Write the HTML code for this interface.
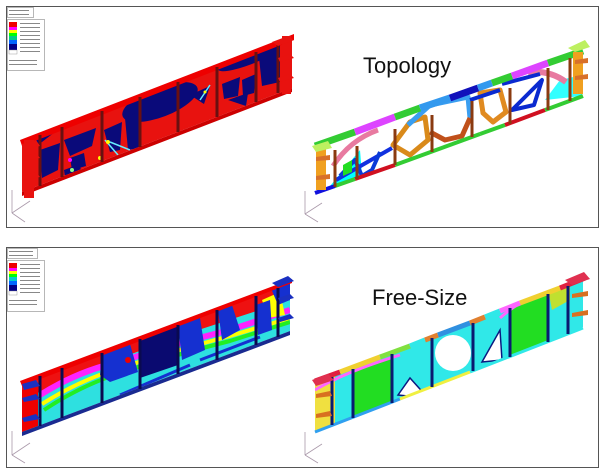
<!DOCTYPE html>
<html><head><meta charset="utf-8"><style>
html,body{margin:0;padding:0;background:#fff;}
svg{display:block;}
text{font-family:"Liberation Sans",Arial,sans-serif;}
</style></head><body>
<svg width="605" height="472" viewBox="0 0 605 472" xmlns="http://www.w3.org/2000/svg">
<defs>
<clipPath id="c1"><polygon points="22,142 292,38 292,88 22,192"/></clipPath>
<clipPath id="c2"><polygon points="315,147 583,52 583,97 315,192"/></clipPath>
<clipPath id="c3"><polygon points="22,383 290,282 290,331 22,432"/></clipPath>
<clipPath id="c4"><polygon points="315,383 583,279 583,327 315,431"/></clipPath>
</defs>
<rect width="605" height="472" fill="#fff"/>
<rect x="6.5" y="6.5" width="592" height="221" fill="none" stroke="#555" stroke-width="1"/>
<rect x="6.5" y="247.5" width="592" height="220" fill="none" stroke="#555" stroke-width="1"/>

<g stroke="#888" stroke-width="0.6" fill="#fff">
<rect x="7.5" y="7.5" width="26" height="10"/>
<rect x="7.5" y="19.5" width="37" height="51"/>
<rect x="7.5" y="248.5" width="30" height="10"/>
<rect x="7.5" y="260.5" width="37" height="51"/>
</g>
<g>
<rect x="9" y="22" width="8" height="5" fill="#e00"/><rect x="9" y="27" width="8" height="3" fill="#f0f"/><rect x="9" y="30" width="8" height="3" fill="#ff0"/><rect x="9" y="33" width="8" height="3" fill="#0f0"/><rect x="9" y="36" width="8" height="4" fill="#0c8"/><rect x="9" y="40" width="8" height="4" fill="#06f"/><rect x="9" y="44" width="8" height="6" fill="#008"/><rect x="9" y="50" width="8" height="4" fill="#fff" stroke="#888" stroke-width="0.4"/>
<rect x="9" y="263" width="8" height="5" fill="#e00"/><rect x="9" y="268" width="8" height="3" fill="#f0f"/><rect x="9" y="271" width="8" height="3" fill="#ff0"/><rect x="9" y="274" width="8" height="3" fill="#0f0"/><rect x="9" y="277" width="8" height="4" fill="#0cc"/><rect x="9" y="281" width="8" height="4" fill="#06f"/><rect x="9" y="285" width="8" height="6" fill="#008"/><rect x="9" y="291" width="8" height="4" fill="#fff" stroke="#888" stroke-width="0.4"/>
<g fill="#888"><rect x="20" y="23" width="20" height="1"/><rect x="20" y="27" width="20" height="1"/><rect x="20" y="31" width="20" height="1"/><rect x="20" y="35" width="20" height="1"/><rect x="20" y="39" width="20" height="1"/><rect x="20" y="43" width="20" height="1"/><rect x="20" y="47" width="20" height="1"/><rect x="20" y="51" width="20" height="1"/><rect x="9" y="60" width="28" height="1"/><rect x="9" y="64" width="28" height="1"/><rect x="9" y="10" width="20" height="1"/><rect x="9" y="14" width="20" height="1"/>
<rect x="20" y="264" width="20" height="1"/><rect x="20" y="268" width="20" height="1"/><rect x="20" y="272" width="20" height="1"/><rect x="20" y="276" width="20" height="1"/><rect x="20" y="280" width="20" height="1"/><rect x="20" y="284" width="20" height="1"/><rect x="20" y="288" width="20" height="1"/><rect x="20" y="292" width="20" height="1"/><rect x="9" y="300" width="28" height="1"/><rect x="9" y="304" width="28" height="1"/><rect x="9" y="251" width="24" height="1"/><rect x="9" y="255" width="24" height="1"/></g>
</g>

<g stroke="#a9a" stroke-width="0.8" fill="none">
<path d="M12,213 V190 M12,213 L30,201 M12,213 L25,222"/>
<path d="M12,455 V431 M12,455 L30,443 M12,455 L25,463"/>
<path d="M305,214 V191 M305,214 L322,203 M305,214 L318,222"/>
<path d="M305,455 V432 M305,455 L322,444 M305,455 L318,463"/>
</g>

<!-- TOP LEFT -->
<polygon points="22,142 292,38 292,88 22,192" fill="#e8120f"/>
<g clip-path="url(#c1)">
<ellipse cx="160" cy="102" rx="40" ry="15" transform="rotate(-21 160 102)" fill="#0a0a7a"/>
<ellipse cx="248" cy="58" rx="32" ry="7" transform="rotate(-21 248 58)" fill="#0a0a7a"/>
<polygon points="40,150 60,143 58,170 42,178" fill="#0a0a7a"/>
<polygon points="64,140 96,128 92,146 70,156" fill="#0a0a7a"/>
<polygon points="70,158 84,153 86,166 72,170" fill="#0a0a7a"/>
<polygon points="104,130 122,122 120,150 110,152" fill="#0a0a7a"/>
<polygon points="125,118 138,112 140,148 128,150" fill="#0a0a7a"/>
<polygon points="190,95 210,86 204,104" fill="#0a0a7a"/>
<polygon points="222,84 240,77 238,96 224,99" fill="#0a0a7a"/>
<polygon points="242,80 256,74 254,93 243,96" fill="#0a0a7a"/>
<polygon points="228,100 248,93 246,106" fill="#0a0a7a"/>
<polygon points="258,48 280,40 280,82 262,86" fill="#0a0a7a"/>
<polygon points="22,142 60,128 42,142 28,150" fill="#0a0a7a"/>
<polygon points="64,170 80,164 82,180 66,184" fill="#0a0a7a"/>
<path d="M105,140 L118,155 M200,100 L210,85 M110,142 L130,150" stroke="#6ef" stroke-width="1.5" fill="none"/>
<circle cx="100" cy="158" r="2" fill="#ff0"/><circle cx="72" cy="170" r="2" fill="#8f8"/><circle cx="108" cy="142" r="2" fill="#ff0"/><circle cx="205" cy="92" r="1.5" fill="#ff0"/><circle cx="70" cy="160" r="2" fill="#f0f"/>
</g>
<polygon points="20,140 294,34 294,40 22,146" fill="#e00"/>
<polygon points="22,192 292,88 292,92 22,196" fill="#c00"/>
<g stroke="#6a1010" stroke-width="3">
<line x1="40" y1="135" x2="40" y2="186"/><line x1="62" y1="127" x2="62" y2="177"/><line x1="102" y1="111" x2="102" y2="162"/><line x1="140" y1="97" x2="140" y2="147"/><line x1="178" y1="82" x2="178" y2="132"/><line x1="217" y1="67" x2="217" y2="117"/><line x1="256" y1="52" x2="256" y2="102"/><line x1="278" y1="43" x2="278" y2="93"/>
</g>
<g fill="#e8120f">
<rect x="24" y="140" width="10" height="58"/>
<polygon points="22,144 36,140 40,146 24,150"/><polygon points="22,157 36,153 40,158 24,161"/><polygon points="22,176 36,172 40,177 24,180"/>
<rect x="282" y="36" width="9" height="58"/>
<polygon points="272,42 288,36 294,40 278,46"/><polygon points="278,58 290,54 294,58 280,62"/><polygon points="278,78 290,74 294,78 280,82"/>
</g>

<!-- TOP RIGHT -->
<text x="363" y="73" font-size="22" fill="#111">Topology</text>
<g clip-path="url(#c2)">
<polygon points="315,147 583,52 583,97 315,192" fill="#fff"/>
<polygon points="330,186 360,150 362,175" fill="#0ff"/>
<polygon points="545,100 560,80 582,75 582,96" fill="#3ff"/>
</g>
<g fill="none" stroke-linejoin="round">
<path d="M333,166 Q350,140 378,130" stroke="#e87aa0" stroke-width="5"/>
<path d="M336,180 L392,148" stroke="#1030e0" stroke-width="4"/>
<path d="M340,176 L355,160 L362,176 L372,170 L380,152" stroke="#0a3ad8" stroke-width="4"/>
<polygon points="343,165 352,160 352,172 343,176" fill="#2d2" stroke="none"/>
<polygon points="393,145 410,122 425,117 428,140 410,155" stroke="#d98a1a" stroke-width="5"/>
<path d="M408,125 L430,105 L468,97 L470,118" stroke="#3a9ef0" stroke-width="5"/>
<path d="M430,132 L445,140 L462,136 L470,118" stroke="#c0501a" stroke-width="5"/>
<polygon points="480,93 500,90 506,112 493,122 483,113" stroke="#e08a20" stroke-width="5"/>
<path d="M470,100 L500,90" stroke="#0a2ad0" stroke-width="4"/>
<polygon points="512,110 542,80 534,105" stroke="#0a2ad0" stroke-width="4"/>
<path d="M528,72 Q550,70 566,82" stroke="#e87aa0" stroke-width="6"/>
<path d="M502,84 L540,74" stroke="#0a2ad0" stroke-width="4"/>
</g>
<g fill="none" stroke-width="7">
<path d="M315,146 L355,132" stroke="#3c3"/><path d="M355,132 L395,117" stroke="#d4f"/><path d="M395,117 L420,108" stroke="#3c3"/><path d="M420,108 L450,98" stroke="#39e"/><path d="M450,98 L478,88" stroke="#11b"/><path d="M478,88 L492,83" stroke="#39e"/><path d="M492,83 L512,76" stroke="#3c3"/><path d="M512,76 L548,63" stroke="#d4f"/><path d="M548,63 L583,51" stroke="#3c3"/>
</g>
<g fill="none" stroke-width="4">
<path d="M315,193 L335,186" stroke="#11d"/><path d="M335,186 L355,179" stroke="#3c3"/><path d="M355,179 L395,165" stroke="#d01020"/><path d="M395,165 L480,134" stroke="#3c3"/><path d="M480,134 L505,125" stroke="#3c3"/><path d="M505,125 L545,110" stroke="#d01020"/><path d="M545,110 L583,96" stroke="#3c3"/>
</g>
<g stroke="#8a3a10" stroke-width="3">
<line x1="335" y1="150" x2="335" y2="187"/><line x1="357" y1="146" x2="357" y2="179"/><line x1="395" y1="129" x2="395" y2="165"/><line x1="432" y1="115" x2="432" y2="152"/><line x1="472" y1="101" x2="472" y2="137"/><line x1="510" y1="88" x2="510" y2="124"/><line x1="548" y1="68" x2="548" y2="110"/><line x1="570" y1="58" x2="570" y2="101"/>
</g>
<rect x="316" y="148" width="10" height="42" fill="#f0a020"/>
<polygon points="312,146 328,141 332,148 316,152" fill="#bdf060"/>
<polygon points="316,157 330,155 330,160 316,161" fill="#d8702a"/>
<polygon points="316,176 330,174 330,179 316,180" fill="#d8702a"/>
<rect x="573" y="52" width="10" height="42" fill="#f0a020"/>
<polygon points="568,48 585,40 590,47 575,52" fill="#bdf060"/>
<polygon points="575,60 588,58 588,63 575,64" fill="#d8702a"/>
<polygon points="575,76 588,74 588,79 575,80" fill="#d8702a"/>

<!-- BOTTOM LEFT -->
<polygon points="22,383 290,282 290,331 22,432" fill="#2ee0e0"/>
<g clip-path="url(#c3)">
<polygon points="22,383 290,282 290,300 180,336 110,362 60,385 22,398" fill="#ee1111"/>
<path d="M40,395 Q80,370 120,362 Q170,345 230,330 L290,310" stroke="#f2f" stroke-width="6" fill="none"/>
<path d="M42,404 Q80,380 120,368 Q170,352 230,336 L290,318" stroke="#ff0" stroke-width="4" fill="none"/>
<path d="M44,410 Q80,386 120,373 Q170,356 230,341 L290,322" stroke="#2e2" stroke-width="4" fill="none"/>
<polygon points="140,337 178,322 178,365 140,378" fill="#0a0a70"/>
<polygon points="102,355 130,344 138,372 110,382 100,375" fill="#1530d0"/>
<polygon points="178,325 200,318 205,350 182,360" fill="#1530d0"/>
<polygon points="218,310 232,305 240,330 222,340" fill="#1530d0"/>
<polygon points="22,390 38,384 38,432 22,432" fill="#e00"/>
<polygon points="262,300 280,292 285,315 268,318" fill="#ff0"/>
<polygon points="256,305 270,300 272,330 258,335" fill="#1530d0"/>
<polygon points="270,286 290,282 290,300 278,305" fill="#1530d0"/>
<path d="M120,395 L190,365 M200,360 L260,337" stroke="#1530d0" stroke-width="3" fill="none"/>
<circle cx="128" cy="360" r="3" fill="#e00"/>
</g>
<polygon points="20,381 292,279 292,283 22,386" fill="#e00"/>
<polygon points="22,432 290,331 290,335 22,436" fill="#1a2a90"/>
<g stroke="#0a0a50" stroke-width="3">
<line x1="40" y1="376" x2="40" y2="426"/><line x1="62" y1="368" x2="62" y2="418"/><line x1="102" y1="353" x2="102" y2="403"/><line x1="140" y1="339" x2="140" y2="389"/><line x1="178" y1="325" x2="178" y2="374"/><line x1="217" y1="310" x2="217" y2="360"/><line x1="256" y1="296" x2="256" y2="345"/><line x1="278" y1="288" x2="278" y2="337"/>
</g>
<g fill="#1a30c0">
<polygon points="22,384 36,380 40,386 24,390"/><polygon points="22,398 36,394 40,399 24,402"/><polygon points="22,418 36,414 40,419 24,422"/>
<polygon points="272,283 288,276 294,281 278,287"/><polygon points="278,298 290,294 294,298 280,302"/><polygon points="278,318 290,314 294,318 280,322"/>
</g>

<!-- BOTTOM RIGHT -->
<text x="372" y="305" font-size="22" fill="#111">Free-Size</text>
<polygon points="315,383 583,279 583,327 315,431" fill="#30e8e8"/>
<g clip-path="url(#c4)">
<polygon points="353,371 392,356 392,410 353,425" fill="#22dd22"/>
<polygon points="510,303 548,289 548,343 510,357" fill="#22dd22"/>
<polygon points="315,383 335,376 335,431 315,431" fill="#f0e040"/>
<polygon points="548,289 570,282 570,300 552,310" fill="#c0e030"/>
<path d="M315,390 Q345,372 400,355" stroke="#f6f" stroke-width="3" fill="none"/>
<path d="M500,318 Q520,300 545,292" stroke="#f6f" stroke-width="3" fill="none"/>
<polygon points="335,425 350,418 352,431" fill="#e07020"/>
<circle cx="453" cy="353" r="18" fill="#fff"/>
<polygon points="398,395 410,378 428,398" fill="#fff" stroke="#0a1a80" stroke-width="1.5"/>
<polygon points="482,362 500,330 502,360" fill="#fff" stroke="#0a1a80" stroke-width="1.5"/>
</g>
<g fill="none" stroke-width="5">
<path d="M315,381 L340,372" stroke="#e02040"/><path d="M340,372 L380,357" stroke="#f0d030"/><path d="M380,357 L410,346" stroke="#80e040"/><path d="M410,346 L425,340" stroke="#30e8e8"/><path d="M425,340 L438,335" stroke="#e08030"/><path d="M438,335 L470,323" stroke="#3090e0"/><path d="M470,323 L485,317" stroke="#e08030"/><path d="M485,317 L500,311" stroke="#30e8e8"/><path d="M500,311 L520,303" stroke="#f6f"/><path d="M520,303 L560,288" stroke="#f0d030"/><path d="M560,288 L585,278" stroke="#e02040"/>
</g>
<g fill="none" stroke-width="3">
<path d="M315,432 L400,399" stroke="#30a0f0"/><path d="M400,399 L470,372" stroke="#f0f040"/><path d="M470,372 L583,328" stroke="#30e8e8"/>
</g>
<g stroke="#0a1a70" stroke-width="3">
<line x1="332" y1="377" x2="332" y2="425"/><line x1="353" y1="369" x2="353" y2="418"/><line x1="392" y1="354" x2="392" y2="403"/><line x1="432" y1="338" x2="432" y2="387"/><line x1="473" y1="323" x2="473" y2="371"/><line x1="510" y1="308" x2="510" y2="357"/><line x1="548" y1="294" x2="548" y2="342"/><line x1="568" y1="286" x2="568" y2="334"/>
</g>
<g>
<polygon points="312,380 328,374 334,380 316,386" fill="#e03050"/>
<polygon points="316,394 330,391 332,396 316,398" fill="#d87020"/>
<polygon points="316,414 330,411 332,416 316,418" fill="#d87020"/>
<polygon points="565,280 584,272 590,279 572,285" fill="#e03050"/>
<polygon points="572,294 588,291 588,296 572,298" fill="#d87020"/>
<polygon points="572,313 588,310 588,315 572,317" fill="#d87020"/>
</g>
</svg>
</body></html>
